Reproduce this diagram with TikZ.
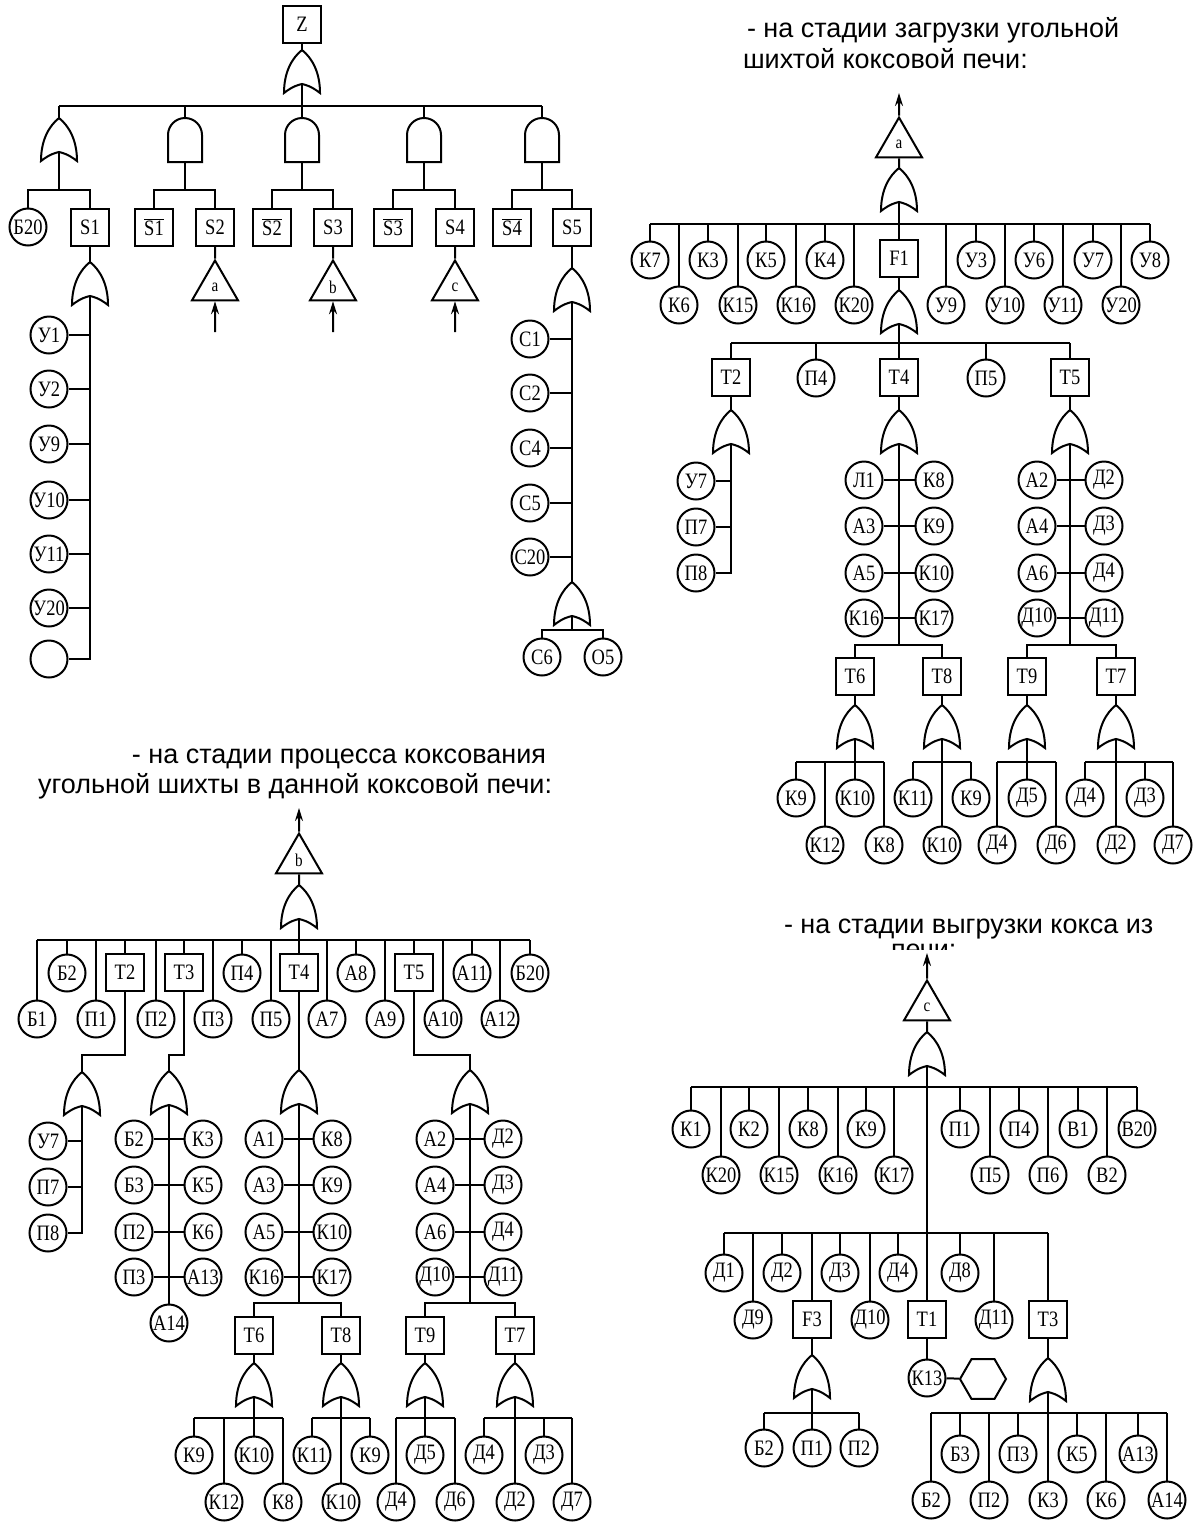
\documentclass[tikz,border=0pt]{standalone}
\usepackage{fontspec}
\setmainfont{Liberation Serif}
\newfontfamily\headfam{Liberation Sans}
\newfontfamily\evfam{Liberation Serif}[FakeStretch=0.84]
\usetikzlibrary{arrows.meta,shapes.geometric}

\begin{document}
\begin{tikzpicture}[
  x=1pt,y=-1pt,
  line width=2pt,
  >={Stealth[length=13pt,width=8pt]},
  ev/.style={circle,draw,minimum size=37pt,inner sep=0pt,font=\evfam\fontsize{22}{22}\selectfont},
  box/.style={draw,minimum width=38pt,minimum height=37pt,inner sep=0pt,font=\evfam\fontsize{22}{22}\selectfont},
  trf/.style={regular polygon,regular polygon sides=3,draw,minimum size=53pt,inner sep=0pt,font=\evfam\fontsize{18}{18}\selectfont},
  hexa/.style={regular polygon,regular polygon sides=6,draw,minimum size=46pt,inner sep=0pt},
  head/.style={inner sep=0pt,font=\headfam\fontsize{27}{30}\selectfont},
  orgate/.pic={
    \draw (0,0) .. controls (10,8) and (18,22) .. (18,43)
      .. controls (9,36) and (4,35) .. (0,34)
      .. controls (-4,35) and (-9,36) .. (-18,43)
      .. controls (-18,22) and (-10,8) .. cycle;
    \coordinate (-in) at (0,0);
    \coordinate (-out) at (0,34);
  },
  andgate/.pic={
    \draw (-17,44) -- (-17,17) arc[start angle=180,end angle=360,radius=17] -- (17,44) -- cycle;
    \coordinate (-in) at (0,0);
    \coordinate (-out) at (0,44);
  }
]
\fill[white] (0,0) rectangle (1197,1524);
\useasboundingbox (0,0) rectangle (1197,1524);

% ---- tree Z (top left) ----
\node[box] (Z) at (302,24) {Z};
\pic (zg0) at (302,50) {orgate};
\draw (Z) -- (zg0-in);
\coordinate (zbus) at (0,106);
\coordinate (zsb) at (0,190);
\pic (zg1) at (59,118) {orgate};
\pic (zg2) at (185,118) {andgate};
\pic (zg3) at (302,118) {andgate};
\pic (zg4) at (424,118) {andgate};
\pic (zg5) at (542,118) {andgate};
\draw (zg0-out) -- (zg0-out |- zbus);
\draw (zg1-in |- zbus) -- (zg5-in |- zbus);
\foreach \g in {zg1,zg2,zg3,zg4,zg5}
  \draw (\g-in) -- (\g-in |- zbus);

\node[ev] (zB20) at (28,227) {Б20};
\node[box] (zS1) at (90,227) {S1};
\node[box] (zN1) at (154,227) {$\overline{\mbox{S1}}$};
\node[box] (zS2) at (215,227) {S2};
\node[box] (zN2) at (272,227) {$\overline{\mbox{S2}}$};
\node[box] (zS3) at (333,227) {S3};
\node[box] (zN3) at (393,227) {$\overline{\mbox{S3}}$};
\node[box] (zS4) at (455,227) {S4};
\node[box] (zN4) at (512,227) {$\overline{\mbox{S4}}$};
\node[box] (zS5) at (572,227) {S5};
\foreach \g/\l/\r in {zg1/zB20/zS1,zg2/zN1/zS2,zg3/zN2/zS3,zg4/zN3/zS4,zg5/zN4/zS5} {
  \draw (\g-out) -- (\g-out |- zsb);
  \draw (\l.north) |- (\r.north |- zsb) -- (\r.north);
}

% ---- transfers a, b, c ----
\foreach \s/\t/\x/\l in {zS2/za/215/a,zS3/zb/333/b,zS4/zc/455/c} {
  \node[trf] (\t) at (\x,287) {\l};
  \coordinate (\t-arr) at (\x,332);
  \draw (\s) -- (\t.north);
  \draw[->] (\t-arr) -- (\t.south);
}

% ---- S1 branch ----
\pic (zgs1) at (90,262) {orgate};
\draw (zS1) -- (zgs1-in);
\foreach \nm/\y/\t in {u1/335/У1,u2/389/У2,u9/444/У9,u10/500/У10,u11/554/У11,u20/608/У20,u0/659/{}}
  \node[ev] (z\nm) at (49,\y) {\t};
\draw (zgs1-out) |- (zu0.east);
\foreach \nm in {u1,u2,u9,u10,u11,u20}
  \draw (z\nm.east) -- (z\nm.east -| zgs1-out);

% ---- S5 branch ----
\pic (zgs5) at (572,268) {orgate};
\draw (zS5) -- (zgs5-in);
\pic (zgc) at (572,582) {orgate};
\draw (zgs5-out) -- (zgc-in);
\foreach \nm/\y/\t in {c1/339/С1,c2/393/С2,c4/448/С4,c5/503/С5,c20/557/С20} {
  \node[ev] (z\nm) at (530,\y) {\t};
  \draw (z\nm.east) -- (z\nm.east -| zgc-in);
}
\coordinate (zsc) at (0,630);
\node[ev] (zc6) at (542,657) {С6};
\node[ev] (zo5) at (603,657) {О5};
\draw (zgc-out) -- (zgc-out |- zsc);
\draw (zc6.north) |- (zo5.north |- zsc) -- (zo5.north);

% ---- tree a (top right) ----
\node[head,anchor=base west] (ahd1) at (746,37) {- на стадии загрузки угольной};
\node[head,anchor=base west] (ahd2) at (742,68) {шихтой коксовой печи:};
\node[trf] (aT) at (899,144) {a};
\coordinate (aup) at (899,93);
\draw[->] (aT.north) -- (aup);
\pic (ag0) at (899,168) {orgate};
\draw (aT.south) -- (ag0-in);
\coordinate (abus1) at (0,224);
\node[box] (aF1) at (899,258) {F1};
\draw (ag0-out) -- (aF1);
\foreach \nm/\x/\y/\t in {k7/650/260/К7,k6/679/305/К6,k3/708/260/К3,k15/738/305/К15,k5/766/260/К5,k16/796/305/К16,k4/825/260/К4,k20/854/305/К20,u9/946/305/У9,u3/976/260/У3,u10/1005/305/У10,u6/1034/260/У6,u11/1063/305/У11,u7/1093/260/У7,u20/1121/305/У20,u8/1150/260/У8} {
  \node[ev] (a\nm) at (\x,\y) {\t};
  \draw (a\nm.north) -- (a\nm.north |- abus1);
}
\draw (ak7.north |- abus1) -- (au8.north |- abus1);

\pic (ag1) at (899,290) {orgate};
\draw (aF1) -- (ag1-in);
\coordinate (abus2) at (0,343);
\draw (ag1-out) -- (ag1-out |- abus2);
\node[box] (aT2) at (731,377) {T2};
\node[ev] (aP4) at (816,378) {П4};
\node[box] (aT4) at (899,377) {T4};
\node[ev] (aP5) at (986,378) {П5};
\node[box] (aT5) at (1070,377) {T5};
\foreach \nm in {aT2,aP4,aT4,aP5,aT5}
  \draw (\nm.north) -- (\nm.north |- abus2);
\draw (aT2.north |- abus2) -- (aT5.north |- abus2);

% T2
\pic (ag2) at (731,410) {orgate};
\draw (aT2) -- (ag2-in);
\foreach \nm/\y/\t in {u7b/481/У7,p7/527/П7,p8/573/П8}
  \node[ev] (a\nm) at (696,\y) {\t};
\draw (ag2-out) |- (ap8.east);
\foreach \nm in {u7b,p7}
  \draw (a\nm.east) -- (a\nm.east -| ag2-out);

% T4
\pic (ag4) at (899,410) {orgate};
\draw (aT4) -- (ag4-in);
\foreach \l/\r/\y/\tl/\tr in {la1/rk8/480/Л1/К8,la3/rk9/526/А3/К9,la5/rk10/573/А5/К10,lk16/rk17/618/К16/К17} {
  \node[ev] (a\l) at (864,\y) {\tl};
  \node[ev] (a\r) at (934,\y) {\tr};
  \draw (a\l) -- (a\r);
}
\coordinate (abus4) at (0,645);
\draw (ag4-out) -- (ag4-out |- abus4);
\node[box] (aT6) at (855,676) {T6};
\node[box] (aT8) at (942,676) {T8};
\draw (aT6.north) |- (aT8.north |- abus4) -- (aT8.north);

\coordinate (abus6) at (0,762);
\pic (ag6) at (855,705) {orgate};
\draw (aT6) -- (ag6-in);
\draw (ag6-out) -- (ag6-out |- abus6);
\foreach \nm/\x/\y/\t in {k9a/796/798/К9,k12/825/845/К12,k10a/855/798/К10,k8a/884/845/К8} {
  \node[ev] (a\nm) at (\x,\y) {\t};
  \draw (a\nm.north) -- (a\nm.north |- abus6);
}
\draw (ak9a.north |- abus6) -- (ak8a.north |- abus6);

\pic (ag8) at (942,705) {orgate};
\draw (aT8) -- (ag8-in);
\draw (ag8-out) -- (ag8-out |- abus6);
\foreach \nm/\x/\y/\t in {k11b/913/798/К11,k10b/942/845/К10,k9b/971/798/К9} {
  \node[ev] (a\nm) at (\x,\y) {\t};
  \draw (a\nm.north) -- (a\nm.north |- abus6);
}
\draw (ak11b.north |- abus6) -- (ak9b.north |- abus6);

% T5
\pic (ag5) at (1070,410) {orgate};
\draw (aT5) -- (ag5-in);
\foreach \l/\r/\y/\tl/\tr in {la2/rd2/480/А2/Д2,la4/rd3/526/А4/Д3,la6/rd4/573/А6/Д4,ld10/rd11/618/Д10/Д11} {
  \node[ev] (a\l) at (1037,\y) {\tl};
  \node[ev] (a\r) at (1104,\y) {\tr};
  \draw (a\l) -- (a\r);
}
\draw (ag5-out) -- (ag5-out |- abus4);
\node[box] (aT9) at (1027,676) {T9};
\node[box] (aT7) at (1116,676) {T7};
\draw (aT9.north) |- (aT7.north |- abus4) -- (aT7.north);

\pic (ag9) at (1027,705) {orgate};
\draw (aT9) -- (ag9-in);
\draw (ag9-out) -- (ag9-out |- abus6);
\foreach \nm/\x/\y/\t in {d4c/997/845/Д4,d5c/1027/798/Д5,d6c/1056/845/Д6} {
  \node[ev] (a\nm) at (\x,\y) {\t};
  \draw (a\nm.north) -- (a\nm.north |- abus6);
}
\draw (ad4c.north |- abus6) -- (ad6c.north |- abus6);

\pic (ag7) at (1116,705) {orgate};
\draw (aT7) -- (ag7-in);
\draw (ag7-out) -- (ag7-out |- abus6);
\foreach \nm/\x/\y/\t in {d4d/1085/798/Д4,d2d/1116/845/Д2,d3d/1145/798/Д3,d7d/1173/845/Д7} {
  \node[ev] (a\nm) at (\x,\y) {\t};
  \draw (a\nm.north) -- (a\nm.north |- abus6);
}
\draw (ad4d.north |- abus6) -- (ad7d.north |- abus6);

% ---- tree b (bottom left) ----
\node[head,anchor=base east] (bhd1) at (547,763) {- на стадии процесса коксования};
\node[head,anchor=base east] (bhd2) at (553,793) {угольной шихты в данной коксовой печи:};
\node[trf] (bT) at (299,860) {b};
\coordinate (bup) at (299,808);
\draw[->] (bT.north) -- (bup);
\pic (bg0) at (299,885) {orgate};
\draw (bT.south) -- (bg0-in);
\coordinate (bbus1) at (0,940);
\draw (bg0-out) -- (bg0-out |- bbus1);
\foreach \nm/\x/\y/\t in {b1/37/1019/Б1,b2/67/973/Б2,p1/96/1019/П1,p2/156/1019/П2,p3/213/1019/П3,p4/242/973/П4,p5/271/1019/П5,a7/327/1019/А7,a8/356/973/А8,a9/385/1019/А9,a10/443/1019/А10,a11/472/973/А11,a12/500/1019/А12,b20/530/973/Б20} {
  \node[ev] (b\nm) at (\x,\y) {\t};
  \draw (b\nm.north) -- (b\nm.north |- bbus1);
}
\foreach \nm/\x/\t in {T2/125/T2,T3/184/T3,T4/299/T4,T5/414/T5} {
  \node[box] (b\nm) at (\x,972) {\t};
  \draw (b\nm.north) -- (b\nm.north |- bbus1);
}
\draw (bb1.north |- bbus1) -- (bb20.north |- bbus1);
\coordinate (bj) at (0,1055);

% T2
\pic (bg2) at (82,1072) {orgate};
\draw (bT2.south) |- (bg2-in |- bj) -- (bg2-in);
\foreach \nm/\y/\t in {u7/1141/У7,p7/1187/П7,p8/1233/П8}
  \node[ev] (b\nm) at (48,\y) {\t};
\draw (bg2-out) |- (bp8.east);
\foreach \nm in {u7,p7}
  \draw (b\nm.east) -- (b\nm.east -| bg2-out);

% T3
\pic (bg3) at (169,1071) {orgate};
\draw (bT3.south) |- (bg3-in |- bj) -- (bg3-in);
\foreach \l/\r/\y/\tl/\tr in {lb2/rk3/1139/Б2/К3,lb3/rk5/1185/Б3/К5,lp2/rk6/1232/П2/К6,lp3/ra13/1277/П3/А13} {
  \node[ev] (b\l) at (134,\y) {\tl};
  \node[ev] (b\r) at (203,\y) {\tr};
  \draw (b\l) -- (b\r);
}
\node[ev] (ba14) at (169,1323) {А14};
\draw (bg3-out) -- (ba14);

% T4
\pic (bg4) at (299,1070) {orgate};
\draw (bT4) -- (bg4-in);
\foreach \l/\r/\y/\tl/\tr in {la1/rk8/1139/А1/К8,la3/rk9/1185/А3/К9,la5/rk10/1232/А5/К10,lk16/rk17/1277/К16/К17} {
  \node[ev] (b\l) at (264,\y) {\tl};
  \node[ev] (b\r) at (332,\y) {\tr};
  \draw (b\l) -- (b\r);
}
\coordinate (bbus4) at (0,1303);
\coordinate (bbus6) at (0,1418);
\draw (bg4-out) -- (bg4-out |- bbus4);
\node[box] (bT6) at (254,1335) {T6};
\node[box] (bT8) at (341,1335) {T8};
\draw (bT6.north) |- (bT8.north |- bbus4) -- (bT8.north);

\pic (bg6) at (254,1363) {orgate};
\draw (bT6) -- (bg6-in);
\draw (bg6-out) -- (bg6-out |- bbus6);
\foreach \nm/\x/\y/\t in {k9a/194/1455/К9,k12/224/1502/К12,k10a/254/1455/К10,k8a/283/1502/К8} {
  \node[ev] (b\nm) at (\x,\y) {\t};
  \draw (b\nm.north) -- (b\nm.north |- bbus6);
}
\draw (bk9a.north |- bbus6) -- (bk8a.north |- bbus6);

\pic (bg8) at (341,1363) {orgate};
\draw (bT8) -- (bg8-in);
\draw (bg8-out) -- (bg8-out |- bbus6);
\foreach \nm/\x/\y/\t in {k11b/312/1455/К11,k10b/341/1502/К10,k9b/370/1455/К9} {
  \node[ev] (b\nm) at (\x,\y) {\t};
  \draw (b\nm.north) -- (b\nm.north |- bbus6);
}
\draw (bk11b.north |- bbus6) -- (bk9b.north |- bbus6);

% T5
\pic (bg5) at (470,1070) {orgate};
\draw (bT5.south) |- (bg5-in |- bj) -- (bg5-in);
\foreach \l/\r/\y/\tl/\tr in {la2/rd2/1139/А2/Д2,la4/rd3/1185/А4/Д3,la6/rd4/1232/А6/Д4,ld10/rd11/1277/Д10/Д11} {
  \node[ev] (b\l) at (435,\y) {\tl};
  \node[ev] (b\r) at (503,\y) {\tr};
  \draw (b\l) -- (b\r);
}
\draw (bg5-out) -- (bg5-out |- bbus4);
\node[box] (bT9) at (425,1335) {T9};
\node[box] (bT7) at (515,1335) {T7};
\draw (bT9.north) |- (bT7.north |- bbus4) -- (bT7.north);

\pic (bg9) at (425,1363) {orgate};
\draw (bT9) -- (bg9-in);
\draw (bg9-out) -- (bg9-out |- bbus6);
\foreach \nm/\x/\y/\t in {d4c/396/1502/Д4,d5c/425/1455/Д5,d6c/455/1502/Д6} {
  \node[ev] (b\nm) at (\x,\y) {\t};
  \draw (b\nm.north) -- (b\nm.north |- bbus6);
}
\draw (bd4c.north |- bbus6) -- (bd6c.north |- bbus6);

\pic (bg7) at (515,1363) {orgate};
\draw (bT7) -- (bg7-in);
\draw (bg7-out) -- (bg7-out |- bbus6);
\foreach \nm/\x/\y/\t in {d4d/484/1455/Д4,d2d/515/1502/Д2,d3d/544/1455/Д3,d7d/572/1502/Д7} {
  \node[ev] (b\nm) at (\x,\y) {\t};
  \draw (b\nm.north) -- (b\nm.north |- bbus6);
}
\draw (bd4d.north |- bbus6) -- (bd7d.north |- bbus6);

% ---- tree c (bottom right) ----
\node[head,anchor=base west] (chd1) at (783,933) {- на стадии выгрузки кокса из};
\begin{scope}
  \clip (880,930) rectangle (970,949.5);
  \node[head,anchor=base west] (chd2) at (890,958) {печи:};
\end{scope}
\node[trf] (cT) at (927,1007) {c};
\coordinate (cup) at (927,953);
\draw[->] (cT.north) -- (cup);
\pic (cg0) at (927,1032) {orgate};
\draw (cT.south) -- (cg0-in);
\coordinate (cbus1) at (0,1087);
\coordinate (cbus2) at (0,1233);
\foreach \nm/\x/\y/\t in {k1/691/1129/К1,k20/721/1175/К20,k2/749/1129/К2,k15/779/1175/К15,k8/808/1129/К8,k16/838/1175/К16,k9/866/1129/К9,k17/894/1175/К17,p1/960/1129/П1,p5/990/1175/П5,p4/1019/1129/П4,p6/1048/1175/П6,v1/1078/1129/В1,v2/1107/1175/В2,v20/1137/1129/В20} {
  \node[ev] (c\nm) at (\x,\y) {\t};
  \draw (c\nm.north) -- (c\nm.north |- cbus1);
}
\draw (ck1.north |- cbus1) -- (cv20.north |- cbus1);

\foreach \nm/\x/\y/\t in {d1/724/1273/Д1,d9/753/1320/Д9,d2/782/1273/Д2,d3/840/1273/Д3,d10/870/1320/Д10,d4/898/1273/Д4,d8/960/1273/Д8,d11/994/1320/Д11} {
  \node[ev] (c\nm) at (\x,\y) {\t};
  \draw (c\nm.north) -- (c\nm.north |- cbus2);
}
\foreach \nm/\x/\t in {F3/812/F3,T1/927/T1,T3/1048/T3} {
  \node[box] (c\nm) at (\x,1319) {\t};
  \draw (c\nm.north) -- (c\nm.north |- cbus2);
}
\draw (cd1.north |- cbus2) -- (cT3.north |- cbus2);
\draw (cg0-out) -- (cT1);

% F3
\pic (cgf) at (812,1355) {orgate};
\draw (cF3) -- (cgf-in);
\coordinate (cbus3) at (0,1413);
\draw (cgf-out) -- (cgf-out |- cbus3);
\foreach \nm/\x/\t in {b2/764/Б2,p1b/812/П1,p2/859/П2} {
  \node[ev] (c\nm) at (\x,1448) {\t};
  \draw (c\nm.north) -- (c\nm.north |- cbus3);
}
\draw (cb2.north |- cbus3) -- (cp2.north |- cbus3);

% T1
\node[ev] (ck13) at (927,1378) {К13};
\node[hexa] (chex) at (983,1379) {};
\draw (cT1) -- (ck13);
\draw (ck13) -- (chex);

% T3
\pic (cg3) at (1048,1358) {orgate};
\draw (cT3) -- (cg3-in);
\draw (cg3-out) -- (cg3-out |- cbus3);
\foreach \nm/\x/\y/\t in {b2b/931/1500/Б2,b3/960/1454/Б3,p2b/989/1500/П2,p3/1018/1454/П3,k3/1048/1500/К3,k5/1077/1454/К5,k6/1106/1500/К6,a13/1138/1454/А13,a14/1167/1500/А14} {
  \node[ev] (c\nm) at (\x,\y) {\t};
  \draw (c\nm.north) -- (c\nm.north |- cbus3);
}
\draw (cb2b.north |- cbus3) -- (ca14.north |- cbus3);

\end{tikzpicture}
\end{document}
